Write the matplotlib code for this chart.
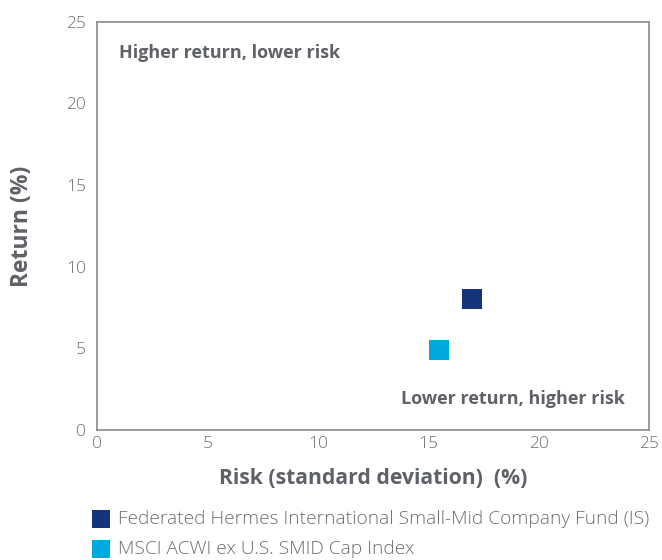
import matplotlib
matplotlib.use("Agg")
import matplotlib.pyplot as plt

# data
names = ["Federated Hermes International Small-Mid Company Fund (IS)",
         "MSCI ACWI ex U.S. SMID Cap Index"]
risk = [17.0, 15.5]
ret = [8.0, 4.9]
colors = ["#14357b", "#00a9e0"]
ticks = [0, 5, 10, 15, 20, 25]

grey = "#5f6168"
plt.rcParams["font.family"] = ["Open Sans", "DejaVu Sans"]

fig = plt.figure(figsize=(6.62, 5.6), dpi=100)
ax = fig.add_axes([0.1465, 0.232, 0.834, 0.729])

for n, x, y, c in zip(names, risk, ret, colors):
    ax.scatter([x], [y], marker="s", s=190, color=c, label=n, linewidths=0, zorder=3)

ax.set_xlim(0, 25)
ax.set_ylim(0, 25)
ax.set_xticks(ticks)
ax.set_yticks(ticks)
for sp in ax.spines.values():
    sp.set_color("#8a8b8d")
    sp.set_linewidth(1.2)
ax.tick_params(length=0, labelsize=12.5, labelcolor="#6d6e71")
ax.tick_params(axis="y", pad=8)
ax.tick_params(axis="x", pad=4)
for lbl in ax.get_xticklabels() + ax.get_yticklabels():
    lbl.set_fontweight("light")

ax.set_xlabel("Risk (standard deviation)  (%)", fontsize=15.2, fontweight="bold",
              color=grey, labelpad=12)
ax.set_ylabel("Return (%)", fontsize=16.5, fontweight="bold", color=grey, labelpad=23)

ax.text(1.0, 23.1, "Higher return, lower risk", fontsize=13, fontweight="bold",
        color=grey, va="center", ha="left")
ax.text(23.9, 1.9, "Lower return, higher risk", fontsize=13, fontweight="bold",
        color=grey, va="center", ha="right")

leg = ax.legend(loc="upper left", bbox_to_anchor=(0.140, 0.089), bbox_transform=fig.transFigure,
                frameon=False, fontsize=13.75, markerscale=0.95, handletextpad=0.45,
                labelspacing=0.62, borderaxespad=0, handlelength=0.9, borderpad=0)
for t in leg.get_texts():
    t.set_color("#6d6e71")
    t.set_fontweight("light")

fig.savefig("out.png", dpi=100)
